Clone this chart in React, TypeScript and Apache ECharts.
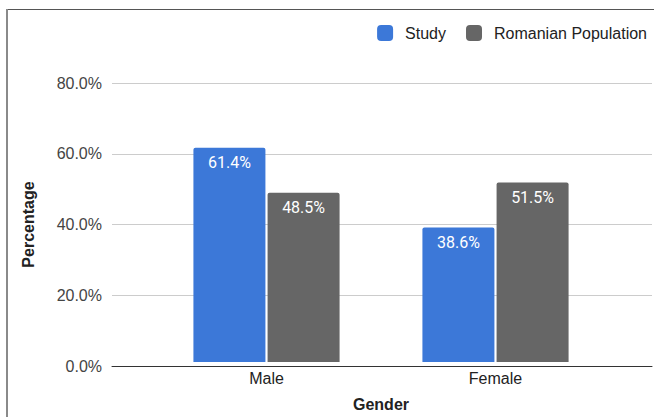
import React, { useEffect, useRef } from "react";
import * as echarts from "echarts";

const categories = ["Male", "Female"];
const studyValues = [61.4, 38.6];
const populationValues = [48.5, 51.5];
const seriesNames = ["Study", "Romanian Population"];
const yTicks = [0, 20, 40, 60, 80];

const FONT = "Arial, 'Liberation Sans', sans-serif";

export default function App() {
  const ref = useRef<HTMLDivElement>(null);
  useEffect(() => {
    if (!ref.current) return;
    const chart = echarts.init(ref.current, undefined, { renderer: "svg" });
    const yMin = yTicks[0];
    const yMax = yTicks[yTicks.length - 1];
    const yInterval = yTicks[1] - yTicks[0];
    const pct = (v: number) => `${Number(v).toFixed(1)}%`;
    const barLabel = {
      show: true,
      position: "insideTop",
      distance: 7,
      color: "#ffffff",
      fontSize: 16,
      fontFamily: "Roboto, sans-serif",
      formatter: (p: any) => pct(p.value),
    };
    chart.setOption({
      animation: false,
      textStyle: { fontFamily: FONT },
      legend: {
        data: seriesNames,
        top: 25,
        right: 7,
        padding: 0,
        itemWidth: 16,
        itemHeight: 16,
        itemGap: 20,
        icon: "roundRect",
        textStyle: {
          fontSize: 16,
          color: "#222222",
          fontFamily: FONT,
          padding: [0, 0, 0, 7],
        },
      },
      grid: [
        { left: 112, right: 2, top: 83, bottom: 51 },
        { left: 152, width: 458, top: 83, bottom: 51 },
      ],
      xAxis: [
        {
          gridIndex: 0,
          type: "value",
          min: 0,
          max: 1,
          axisLine: { show: true, onZero: false, lineStyle: { color: "#333333", width: 1 } },
          axisTick: { show: false },
          axisLabel: { show: false },
          splitLine: { show: false },
          splitArea: { show: false },
        },
        {
          gridIndex: 1,
          type: "category",
          data: categories,
          axisLine: { show: false },
          axisTick: { show: false },
          axisLabel: { fontSize: 16, color: "#222222", margin: 8, fontFamily: FONT },
          splitLine: { show: false },
          splitArea: { show: false },
          name: "Gender",
          nameLocation: "middle",
          nameGap: 34,
          nameTextStyle: { fontSize: 16, fontWeight: "bold", color: "#222222", fontFamily: FONT },
        },
      ],
      yAxis: [
        {
          gridIndex: 0,
          type: "value",
          min: yMin,
          max: yMax,
          interval: yInterval,
          axisLine: { show: false },
          axisTick: { show: false },
          axisLabel: { fontSize: 16, color: "#444444", margin: 10, fontFamily: FONT, formatter: pct },
          splitLine: { show: true, lineStyle: { color: "#cccccc", width: 1 } },
          name: "Percentage",
          nameLocation: "middle",
          nameGap: 76,
          nameRotate: 90,
          nameTextStyle: { fontSize: 16, fontWeight: "bold", color: "#222222", fontFamily: FONT },
        },
        {
          gridIndex: 1,
          type: "value",
          show: false,
          min: yMin,
          max: yMax,
          interval: yInterval,
        },
      ],
      series: [
        {
          name: seriesNames[0],
          type: "bar",
          xAxisIndex: 1,
          yAxisIndex: 1,
          data: studyValues,
          barWidth: 72,
          barGap: "3%",
          itemStyle: { color: "#3c78d8", borderRadius: [2, 2, 0, 0] },
          label: barLabel,
        },
        {
          name: seriesNames[1],
          type: "bar",
          xAxisIndex: 1,
          yAxisIndex: 1,
          data: populationValues,
          barWidth: 72,
          barGap: "3%",
          itemStyle: { color: "#666666", borderRadius: [2, 2, 0, 0] },
          label: barLabel,
        },
      ],
    });
    return () => chart.dispose();
  }, []);
  return (
    <div style={{ position: "fixed", left: 0, top: 0, width: 654, height: 417, background: "#fff", overflow: "hidden" }}>
      <div ref={ref} style={{ position: "absolute", left: 0, top: 0, width: 654, height: 417 }} />
      <div style={{ position: "absolute", left: 6, top: 9, width: 648, height: 0, borderTop: "1.5px solid #555" }} />
      <div style={{ position: "absolute", left: 6, top: 9, width: 0, height: 408, borderLeft: "2px solid #8a8a8a" }} />
    </div>
  );
}
